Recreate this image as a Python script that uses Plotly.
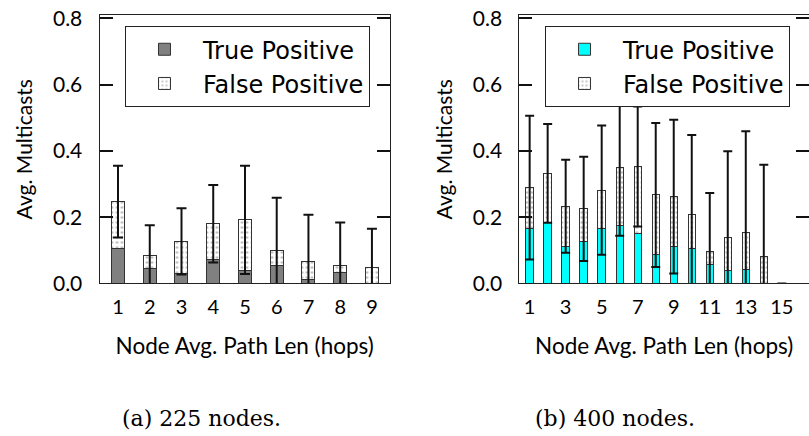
import numpy as np
import plotly.graph_objects as go

# Average multicasts per node, grouped by the node's average path length (hops)
hops_225 = [1, 2, 3, 4, 5, 6, 7, 8, 9]
tp_225 = [0.106, 0.045, 0.030, 0.072, 0.040, 0.055, 0.013, 0.032, 0.0]
fp_225 = [0.141, 0.038, 0.097, 0.108, 0.152, 0.045, 0.054, 0.021, 0.049]
err_225 = [0.108, 0.093, 0.100, 0.117, 0.163, 0.159, 0.140, 0.131, 0.116]

hops_400 = list(range(1, 16))
tp_400 = [0.165, 0.183, 0.113, 0.127, 0.165, 0.174, 0.150, 0.087,
          0.111, 0.107, 0.057, 0.038, 0.041, 0.0, 0.0]
fp_400 = [0.124, 0.149, 0.120, 0.098, 0.117, 0.175, 0.203, 0.180,
          0.151, 0.102, 0.039, 0.100, 0.114, 0.081, 0.0]
err_400 = [0.217, 0.149, 0.140, 0.157, 0.195, 0.205, 0.181, 0.217,
           0.232, 0.239, 0.177, 0.261, 0.304, 0.277, 0.0]

ticks_225 = hops_225
ticks_400 = [1, 3, 5, 7, 9, 11, 13, 15]
y_ticks = [0.0, 0.2, 0.4, 0.6, 0.8]

SANS = "Lato"
LEGEND_FONT = "DejaVu Sans"
SERIF = "DejaVu Serif"
BAR_W = 0.41
OUTLINE = dict(color="#333333", width=1)
FP_PATTERN = dict(shape=".", fgcolor="#707070", bgcolor="white", size=5, solidity=0.2)

fig = go.Figure()


def add_panel(xs, tp, fp, err, tp_color, xa, ya, legend, cap):
    fig.add_trace(go.Bar(
        x=xs, y=tp, width=BAR_W, name="True Positive",
        marker=dict(color=tp_color, line=OUTLINE),
        xaxis=xa, yaxis=ya, legend=legend, legendgroup=legend + "tp",
    ))
    fig.add_trace(go.Bar(
        x=xs, y=fp, width=BAR_W, name="False Positive",
        marker=dict(color="white", line=OUTLINE, pattern=FP_PATTERN),
        xaxis=xa, yaxis=ya, legend=legend, legendgroup=legend + "fp",
    ))
    total = np.array(tp) + np.array(fp)
    fig.add_trace(go.Scatter(
        x=xs, y=total, mode="markers",
        marker=dict(size=1, color="rgba(0,0,0,0)"),
        error_y=dict(type="data", array=err, symmetric=True,
                     color="#111111", thickness=2, width=cap),
        xaxis=xa, yaxis=ya, showlegend=False, hoverinfo="skip",
    ))


add_panel(hops_225, tp_225, fp_225, err_225, "#808080", "x", "y", "legend", 5)
add_panel(hops_400, tp_400, fp_400, err_400, "#00FFFF", "x2", "y2", "legend2", 4.5)

x_common = dict(
    automargin=False,
    showline=True, linecolor="#222222", linewidth=1, mirror=True,
    ticks="", showgrid=False, zeroline=False,
    tickfont=dict(family=SANS, size=20, color="black"),
    ticklabelstandoff=6,
    title=dict(text="Node Avg. Path Len (hops)",
               font=dict(family=SANS, size=22.5, color="black"), standoff=20),
)
y_common = dict(
    automargin=False,
    range=[0, 0.81], tickvals=y_ticks, tickformat=".1f",
    showline=True, linecolor="#222222", linewidth=1, mirror="ticks",
    ticks="inside", ticklen=13, tickwidth=2, tickcolor="#111111",
    showgrid=False, zeroline=False,
    tickfont=dict(family=SANS, size=21, color="black"),
    ticklabelstandoff=12,
    title=dict(text="Avg. Multicasts",
               font=dict(family=SANS, size=21, color="black"), standoff=14),
    domain=[0.3498, 0.9656],
)
legend_common = dict(
    bgcolor="white", bordercolor="#222222", borderwidth=1,
    font=dict(family=LEGEND_FONT, size=24, color="black"),
    itemwidth=67, tracegroupgap=9, traceorder="normal",
    xanchor="left", yanchor="top", y=0.940,
)

fig.update_layout(
    width=809, height=436,
    margin=dict(l=0, r=0, t=0, b=0, autoexpand=False),
    paper_bgcolor="white", plot_bgcolor="white",
    barmode="stack",
    xaxis=dict(x_common, domain=[0.123, 0.482], range=[0.417, 9.567],
               tickvals=ticks_225, anchor="y"),
    yaxis=dict(y_common, anchor="x"),
    xaxis2=dict(x_common, domain=[0.642, 1.0], range=[0.43, 16.51],
                tickvals=ticks_400, anchor="y2"),
    yaxis2=dict(y_common, anchor="x2"),
    legend=dict(legend_common, x=0.1545),
    legend2=dict(legend_common, x=0.6737),
    annotations=[
        dict(text="(a) 225 nodes.", x=0.2495, y=0.039, xref="paper", yref="paper",
             xanchor="center", yanchor="middle", showarrow=False,
             font=dict(family=SERIF, size=22, color="black")),
        dict(text="(b) 400 nodes.", x=0.760, y=0.039, xref="paper", yref="paper",
             xanchor="center", yanchor="middle", showarrow=False,
             font=dict(family=SERIF, size=22, color="black")),
    ],
)

fig.write_html("out.html")
